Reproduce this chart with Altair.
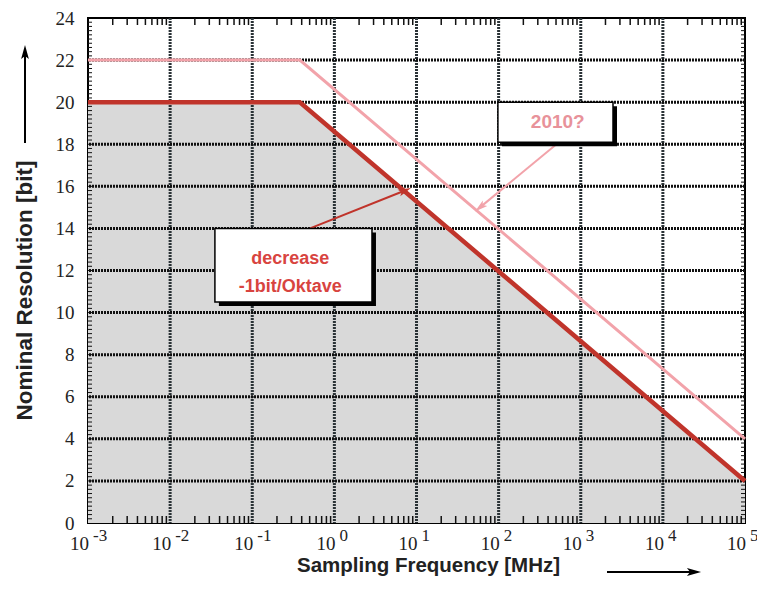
import altair as alt
import pandas as pd

# ---- data ----
freq_mhz = [0.001, 0.38, 100000]          # sampling frequency [MHz]
res_today = [20, 20, 2]                   # nominal resolution [bit], dark red
res_2010 = [22, 22, 4]                    # nominal resolution [bit], "2010?"

y_ticks = [0, 2, 4, 6, 8, 10, 12, 14, 16, 18, 20, 22, 24]
grid_y = [2, 4, 6, 8, 10, 12, 14, 16, 18, 20, 22]
x_exponents = [-3, -2, -1, 0, 1, 2, 3, 4, 5]
grid_x_exponents = [-2, -1, 0, 1, 2, 3, 4]
minor_mult = [2, 3, 4, 5, 6, 7, 8, 9]
y_minor_step = 0.2

# annotation boxes / arrows (data coordinates)
box_2010 = {"x": [98], "x2": [2470], "y": [20.0], "y2": [18.1]}
box_dec = {"x": [0.0351], "x2": [2.87], "y": [14.0], "y2": [10.5]}
txt_2010 = {"x": [525], "y": [19.06], "t": ["2010?"]}
txt_dec = {"x": [0.29], "y": [12.55], "t": ["decrease\n-1bit/Oktave"]}
arrow_dec = {"x0": [0.505], "y0": [14.0], "x1": [7.24], "y1": [15.8]}
arrow_2010 = {"x0": [528], "y0": [18.06], "x1": [59.3], "y1": [15.0]}

W, H = 657, 505
DARK = "#c0342b"
LIGHT = "#f2a3aa"
SERIF = "Liberation Serif"
SANS = "Liberation Sans"
ARROW = "M0,-1L0.55,1L0,0.55L-0.55,1Z"

df = pd.DataFrame({"f": freq_mhz, "now": res_today, "fut": res_2010})
xs = alt.Scale(type="log", domain=[1e-3, 1e5], nice=False)
ys = alt.Scale(domain=[0, 24], nice=False)

area = alt.Chart(df).mark_area(color="#d9d9d9").encode(
    x=alt.X("f:Q", scale=xs, axis=alt.Axis(
        labels=False, ticks=False, domain=False, grid=False,
        title="Sampling Frequency [MHz]", titleFont=SANS, titleFontSize=20.5,
        titleFontWeight="bold", titleColor="#222", titleX=340, titleY=42,
        titleAlign="center", titleBaseline="middle")),
    y=alt.Y("now:Q", scale=ys, axis=alt.Axis(
        values=y_ticks, grid=False, ticks=False, domain=False,
        labelFont=SERIF, labelFontSize=19, labelPadding=14, labelColor="#222",
        title="Nominal Resolution [bit]", titleFont=SANS, titleFontSize=22.5,
        titleFontWeight="bold", titleColor="#222", titleX=-64, titleY=272,
        titleAngle=270, titleAlign="center", titleBaseline="middle")),
)

gx = pd.DataFrame({"g": [10.0 ** e for e in grid_x_exponents]})
gy = pd.DataFrame({"g": grid_y})
grid_v = alt.Chart(gx).mark_rule(color="#2a3236", strokeWidth=3, strokeDash=[2, 1]).encode(x="g:Q")
grid_h = alt.Chart(gy).mark_rule(color="#111", strokeWidth=3, strokeDash=[2, 1]).encode(y="g:Q")

minor = pd.DataFrame({"m": [m * 10.0 ** k for k in range(-3, 5) for m in minor_mult]})
tick_top = alt.Chart(minor).mark_rule(color="#111", strokeWidth=1.5).encode(
    x="m:Q", y=alt.value(0), y2=alt.value(7))
tick_bot = alt.Chart(minor).mark_rule(color="#111", strokeWidth=1.5).encode(
    x="m:Q", y=alt.value(H), y2=alt.value(H - 7))
ym = pd.DataFrame({"m": [i * y_minor_step for i in range(1, 120)]})
tick_left = alt.Chart(ym).mark_rule(color="#111", strokeWidth=1).encode(
    y="m:Q", x=alt.value(0), x2=alt.value(4))
tick_right = alt.Chart(ym).mark_rule(color="#111", strokeWidth=1).encode(
    y="m:Q", x=alt.value(W), x2=alt.value(W - 4))

line_fut = alt.Chart(df).mark_line(color=LIGHT, strokeWidth=3).encode(x="f:Q", y="fut:Q")
line_now = alt.Chart(df).mark_line(color=DARK, strokeWidth=4.5).encode(x="f:Q", y="now:Q")

def box(d):
    bd = pd.DataFrame(d)
    shadow = alt.Chart(bd).mark_rect(color="black", xOffset=4, x2Offset=4, yOffset=4, y2Offset=4).encode(
        x="x:Q", x2="x2:Q", y="y:Q", y2="y2:Q")
    face = alt.Chart(bd).mark_rect(fill="white", stroke="black", strokeWidth=1.5).encode(
        x="x:Q", x2="x2:Q", y="y:Q", y2="y2:Q")
    return shadow + face

t2010 = alt.Chart(pd.DataFrame(txt_2010)).mark_text(
    font=SANS, fontSize=19, fontWeight="bold", color="#e8929a", align="center", baseline="middle"
).encode(x="x:Q", y="y:Q", text="t:N")
tdec = alt.Chart(pd.DataFrame(txt_dec)).mark_text(
    font=SANS, fontSize=18, fontWeight="bold", color="#d8443f", align="center", baseline="middle",
    lineBreak="\n", lineHeight=28
).encode(x="x:Q", y="y:Q", text="t:N")

def arrow(d, color, angle):
    ad = pd.DataFrame(d)
    shaft = alt.Chart(ad).mark_rule(color=color, strokeWidth=2).encode(
        x="x0:Q", y="y0:Q", x2="x1:Q", y2="y1:Q")
    head = alt.Chart(ad).mark_point(shape=ARROW, filled=True, color=color, opacity=1,
                                    size=170, angle=angle).encode(x="x1:Q", y="y1:Q")
    return shaft + head

lab = pd.DataFrame({"v": [10.0 ** e for e in x_exponents], "e": [str(e) for e in x_exponents]})
lab_base = alt.Chart(lab).mark_text(font=SERIF, fontSize=19, color="#222", align="right",
                                    baseline="alphabetic", dx=1).encode(
    x="v:Q", y=alt.value(H + 27), text=alt.value("10"))
lab_exp = alt.Chart(lab).mark_text(font=SERIF, fontSize=17, color="#222", align="left",
                                   baseline="alphabetic", dx=5).encode(
    x="v:Q", y=alt.value(H + 18), text="e:N")

one = pd.DataFrame({"a": [0]})
up_shaft = alt.Chart(one).mark_rule(color="black", strokeWidth=2).encode(
    x=alt.value(-63), y=alt.value(125), y2=alt.value(32))
up_head = alt.Chart(one).mark_point(shape=ARROW, filled=True, color="black", opacity=1,
                                    size=200, angle=0).encode(x=alt.value(-63), y=alt.value(34))
rt_shaft = alt.Chart(one).mark_rule(color="black", strokeWidth=2).encode(
    x=alt.value(519), x2=alt.value(606), y=alt.value(554))
rt_head = alt.Chart(one).mark_point(shape=ARROW, filled=True, color="black", opacity=1,
                                    size=200, angle=90).encode(x=alt.value(606), y=alt.value(554))

chart = alt.layer(
    area, grid_v, grid_h, tick_top, tick_bot, tick_left, tick_right, line_fut, line_now,
    arrow(arrow_2010, LIGHT, 231), arrow(arrow_dec, DARK, 68),
    box(box_2010), box(box_dec), t2010, tdec, lab_base, lab_exp,
    up_shaft, up_head, rt_shaft, rt_head,
).properties(
    width=W, height=H,
    autosize=alt.AutoSizeParams(type="none"),
    padding={"left": 80, "top": 10, "right": 12, "bottom": 59},
    background="white",
).configure_view(stroke="black", strokeWidth=2)

chart.save("out.html", embed_options={"renderer": "svg", "actions": False})
